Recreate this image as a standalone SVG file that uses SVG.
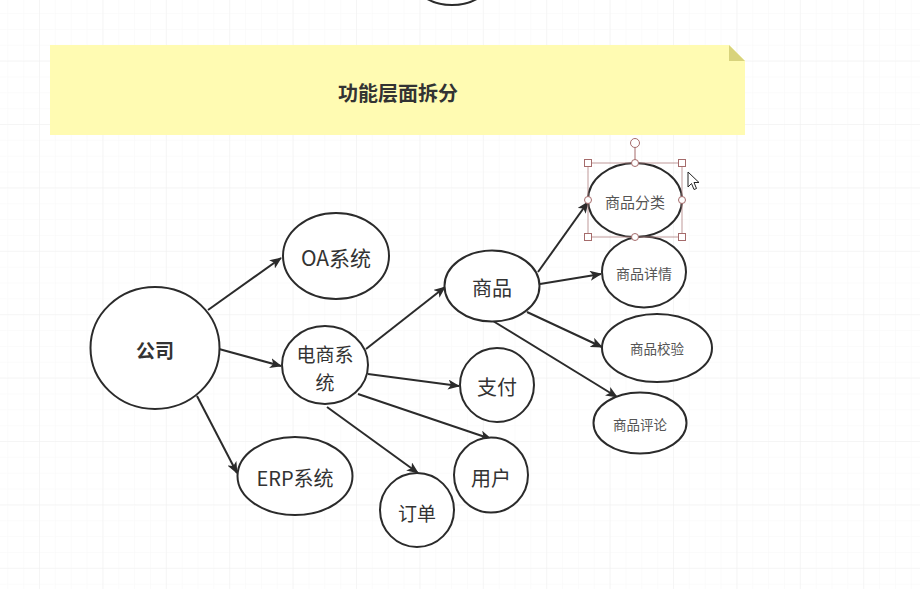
<svg xmlns="http://www.w3.org/2000/svg" width="920" height="589" viewBox="0 0 920 589">
<defs>
<pattern id="minor" x="39" y="-2.8" width="15.85" height="15.85" patternUnits="userSpaceOnUse">
<path d="M0,0 H15.85 M0,0 V15.85" fill="none" stroke="#f8f8f8" stroke-width="1"/>
</pattern>
<pattern id="major" x="39" y="-2.8" width="63.4" height="63.4" patternUnits="userSpaceOnUse">
<path d="M0,0 H63.4 M0,0 V63.4" fill="none" stroke="#efefef" stroke-width="1"/>
</pattern>
<marker id="arr" viewBox="0 0 12 10" refX="11" refY="5" markerWidth="12" markerHeight="10" markerUnits="userSpaceOnUse" orient="auto">
<path d="M0,0 L12,5 L0,10 L3,5 z" fill="#2b2b2b"/>
</marker>
<style>
.n{fill:#fff;stroke:#2b2b2b;stroke-width:2}
.t{font-family:"Noto Sans CJK SC","Noto Sans",sans-serif;fill:#333;text-anchor:middle;dominant-baseline:central}
.s{fill:#555}
.e{fill:none;stroke:#2b2b2b;stroke-width:2;marker-end:url(#arr)}
.h{fill:#fff;stroke:#a56b6b;stroke-width:1}
</style>
</defs>
<rect width="920" height="589" fill="#fff"/>
<rect width="920" height="589" fill="url(#minor)"/>
<rect width="920" height="589" fill="url(#major)"/>

<g id="top-partial">
<ellipse class="n" cx="452" cy="-23" rx="40" ry="28"/>
</g>

<g id="title-note">
<path d="M50,45 H729 L745,61 V135 H50 Z" fill="#fffbb2"/>
<path d="M729,45 L745,61 H729 Z" fill="#d8d37c"/>
<text class="t" x="398" y="92" font-size="20" font-weight="bold">功能层面拆分</text>
</g>

<g id="connectors">
<line class="e" x1="208" y1="310" x2="281" y2="258"/>
<line class="e" x1="219" y1="349" x2="281" y2="366"/>
<line class="e" x1="197" y1="396" x2="237" y2="473"/>
<line class="e" x1="366" y1="349" x2="445" y2="287"/>
<line class="e" x1="368" y1="374" x2="459" y2="386"/>
<line class="e" x1="358" y1="394" x2="491" y2="439"/>
<line class="e" x1="327" y1="407" x2="418" y2="473"/>
<line class="e" x1="538" y1="272" x2="588" y2="202"/>
<line class="e" x1="540" y1="284" x2="601" y2="274"/>
<line class="e" x1="527" y1="312" x2="602" y2="347"/>
<line class="e" x1="493" y1="321" x2="617" y2="397"/>
</g>

<g id="node-company">
<ellipse class="n" cx="155" cy="348" rx="64.5" ry="61"/>
<text class="t" x="155" y="349" font-size="19" font-weight="bold">公司</text>
</g>
<g id="node-oa">
<ellipse class="n" cx="336" cy="256" rx="53" ry="43"/>
<text class="t" x="336" y="257" font-size="21">OA系统</text>
</g>
<g id="node-ecommerce">
<ellipse class="n" cx="325" cy="365" rx="43" ry="39"/>
<text class="t" x="325" y="353" font-size="19">电商系</text>
<text class="t" x="325" y="381" font-size="19">统</text>
</g>
<g id="node-erp">
<ellipse class="n" cx="295" cy="476" rx="57.5" ry="39"/>
<text class="t" x="295" y="477" font-size="20">ERP系统</text>
</g>
<g id="node-order">
<ellipse class="n" cx="417" cy="510" rx="37" ry="37"/>
<text class="t" x="417" y="512" font-size="19">订单</text>
</g>
<g id="node-goods">
<ellipse class="n" cx="492" cy="286" rx="47.5" ry="35.5"/>
<text class="t" x="492" y="287" font-size="20">商品</text>
</g>
<g id="node-pay">
<ellipse class="n" cx="497" cy="385" rx="37" ry="37"/>
<text class="t" x="497" y="386" font-size="20">支付</text>
</g>
<g id="node-user">
<ellipse class="n" cx="491" cy="475" rx="37" ry="37.5"/>
<text class="t" x="491" y="477" font-size="20">用户</text>
</g>
<g id="node-category">
<ellipse class="n" cx="635" cy="200" rx="47" ry="37"/>
<text class="t s" x="635" y="201" font-size="15">商品分类</text>
</g>
<g id="node-detail">
<ellipse class="n" cx="644" cy="272" rx="42" ry="35.5"/>
<text class="t s" x="644" y="273" font-size="14">商品详情</text>
</g>
<g id="node-check">
<ellipse class="n" cx="657" cy="348" rx="55" ry="34"/>
<text class="t s" x="657" y="348" font-size="13.5">商品校验</text>
</g>
<g id="node-comment">
<ellipse class="n" cx="640" cy="423" rx="46.5" ry="30.5"/>
<text class="t s" x="640" y="424" font-size="13.5">商品评论</text>
</g>

<g id="selection">
<rect x="588" y="163" width="94" height="74" fill="none" stroke="#b08080" stroke-width="0.8"/>
<line x1="635" y1="147" x2="635" y2="163" stroke="#a56b6b" stroke-width="1"/>
<circle class="h" cx="635" cy="143" r="4.5"/>
<rect class="h" x="584.5" y="159.5" width="7" height="7"/>
<rect class="h" x="678.5" y="159.5" width="7" height="7"/>
<rect class="h" x="584.5" y="233.5" width="7" height="7"/>
<rect class="h" x="678.5" y="233.5" width="7" height="7"/>
<circle class="h" cx="635" cy="163" r="3.5"/>
<circle class="h" cx="635" cy="237" r="3.5"/>
<circle class="h" cx="588" cy="200" r="3.5"/>
<circle class="h" cx="682" cy="200" r="3.5"/>
</g>

<g id="cursor">
<path d="M688,172 L688,187 L691.5,183.5 L694,189.5 L696.5,188.5 L694,182.5 L699,182.5 Z" fill="#fff" stroke="#222" stroke-width="1" stroke-linejoin="round"/>
</g>
</svg>
